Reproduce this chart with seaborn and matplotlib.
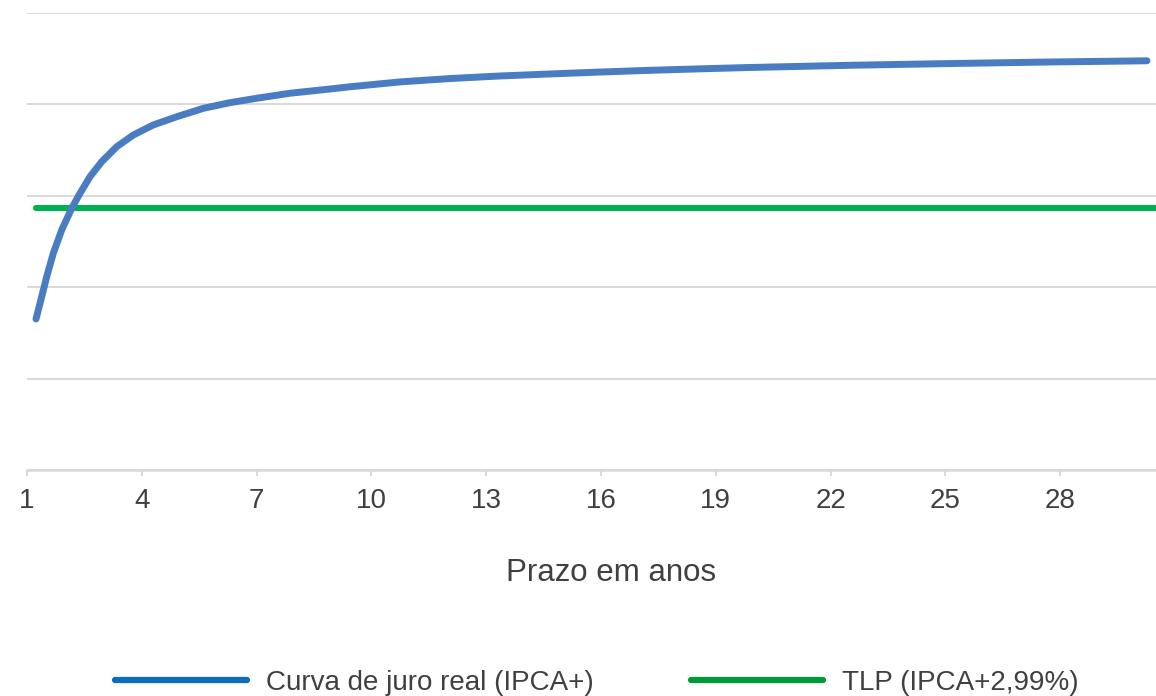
import matplotlib
matplotlib.use("Agg")
import matplotlib.pyplot as plt
import seaborn as sns
import pandas as pd
from matplotlib.lines import Line2D

# ---- data (y in gridline units) ----
prazo_curva = [1.235, 1.384, 1.515, 1.687, 1.907, 2.168, 2.385, 2.646, 2.952,
               3.344, 3.778, 4.300, 4.912, 5.607, 6.304, 7.002, 7.872, 8.996,
               9.440, 10.747, 12.053, 13.360, 14.666, 15.973, 17.279, 18.586,
               19.892, 22.505, 25.118, 27.731, 30.265]
juro_curva = [1.652, 1.896, 2.115, 2.371, 2.626, 2.863, 3.027, 3.209, 3.373,
              3.537, 3.665, 3.775, 3.865, 3.957, 4.019, 4.067, 4.122, 4.172,
              4.193, 4.246, 4.283, 4.311, 4.333, 4.354, 4.373, 4.389,
              4.404, 4.428, 4.447, 4.464, 4.477]
prazo_tlp = [1.235, 30.6]
tlp = [2.867, 2.867]
xticks = [1, 4, 7, 10, 13, 16, 19, 22, 25, 28]
yticks = [0, 1, 2, 3, 4, 5]
label_curva = "Curva de juro real (IPCA+)"
label_tlp = "TLP (IPCA+2,99%)"
xlabel = "Prazo em anos"

sns.set_theme(style="white")
plt.rcParams['font.family'] = ['Liberation Sans', 'DejaVu Sans']

W, H = 1156, 696
fig = plt.figure(figsize=(W / 100, H / 100), dpi=100)
ax = fig.add_axes([27 / W, 1 - 470 / H, 1129 / W, 457 / H])

df_c = pd.DataFrame({"x": prazo_curva, "y": juro_curva})
df_t = pd.DataFrame({"x": prazo_tlp, "y": tlp})
sns.lineplot(data=df_t, x="x", y="y", ax=ax, color="#00B050", linewidth=4.4,
             solid_capstyle="round", zorder=3)
sns.lineplot(data=df_c, x="x", y="y", ax=ax, color="#4A7CC2", linewidth=5.0,
             solid_capstyle="round", solid_joinstyle="round", zorder=4)

ax.set_xlim(1, 1 + 1129 / 38.27)
ax.set_ylim(0, 5)
ax.set_yticks(yticks)
ax.set_yticklabels([])
ax.tick_params(axis="y", length=0)
ax.yaxis.grid(True, color="#D9D9D9", linewidth=1.4)
ax.set_axisbelow(True)
for s in ["top", "right", "left"]:
    ax.spines[s].set_visible(False)
ax.spines["bottom"].set_color("#D9D9D9")
ax.spines["bottom"].set_linewidth(1.8)
ax.set_xticks(xticks)
ax.set_xticklabels([str(t) for t in xticks])
ax.tick_params(axis="x", length=4, width=1.4, color="#D9D9D9", labelsize=20,
               labelcolor="#404040", pad=9, bottom=True, direction="out")
ax.set_xlabel("")
ax.set_ylabel("")

fig.text(611 / W, 1 - 573 / H, xlabel, ha="center", va="center",
         fontsize=22.5, color="#404040")

handles = [Line2D([], [], color="#0A6EBD", linewidth=4.5),
           Line2D([], [], color="#009A3A", linewidth=4.5)]
fs = 20
fs_px = fs * 100 / 72
leg = fig.legend(handles, [label_curva, label_tlp], loc="center", ncol=2,
                 bbox_to_anchor=(597 / W, 1 - 683 / H), frameon=False,
                 fontsize=fs, handlelength=132 / fs_px, handletextpad=19 / fs_px,
                 columnspacing=97 / fs_px, labelcolor="#404040")

fig.savefig("out.png", dpi=100, facecolor="white")
